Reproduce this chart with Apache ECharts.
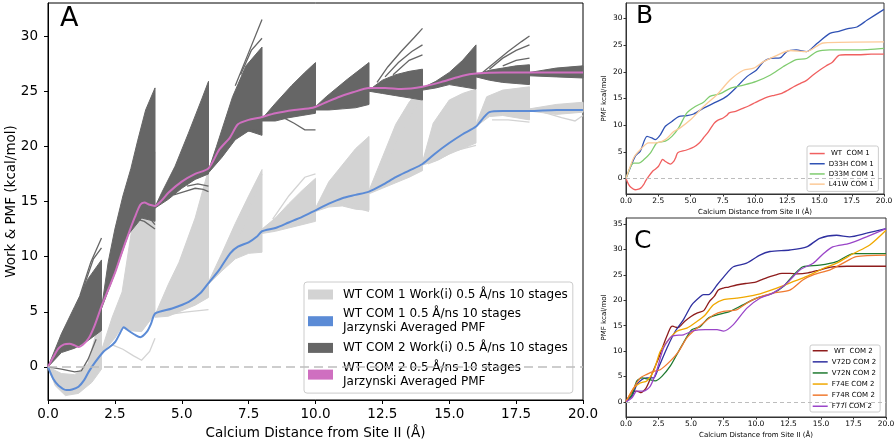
<!DOCTYPE html>
<html>
<head>
<meta charset="utf-8">
<style>html,body{margin:0;padding:0;background:#fff}#chart{width:896px;height:443px}</style>
</head>
<body>
<div id="chart"></div>
<script src="https://cdn.jsdelivr.net/npm/echarts@6/dist/echarts.min.js"></script>
<script>
var FONT = 'DejaVu Sans';

// tick labels
var xTicks = [0, 2.5, 5, 7.5, 10, 12.5, 15, 17.5, 20];
var yTicksA = [0, 5, 10, 15, 20, 25, 30];
var yTicksB = [0, 5, 10, 15, 20, 25, 30];
var yTicksC = [0, 5, 10, 15, 20, 25, 30, 35];

// panel A: Jarzynski averaged PMFs (x in Å, kcal/mol)
var pmfCom1 = [[0,0],[0.2,-1.1],[0.4,-1.7],[0.7,-2.1],[0.9,-2.05],[1.14,-1.8],[1.35,-1.2],[1.52,-0.45],[1.77,0.45],[2.08,1.4],[2.3,1.8],[2.52,2.3],[2.7,3.1],[2.83,3.6],[3.0,3.3],[3.26,2.9],[3.45,2.7],[3.7,3.2],[3.85,3.9],[4.01,4.85],[4.64,5.3],[5.26,5.9],[5.7,6.7],[6.0,7.6],[6.4,8.8],[6.81,10.3],[7.1,10.9],[7.5,11.3],[7.8,11.8],[8.0,12.3],[8.5,12.6],[9.0,13.1],[9.5,13.6],[10.0,14.2],[10.5,14.8],[11.0,15.3],[11.5,15.6],[12.0,15.9],[12.5,16.5],[13.0,17.2],[13.5,17.8],[14.0,18.4],[14.5,19.4],[15.0,20.3],[15.5,21.1],[16.0,21.8],[16.5,23.1],[17,23.2],[18,23.2],[19,23.3],[20,23.3]];
var pmfCom2 = [[0,0],[0.2,0.9],[0.4,1.7],[0.6,2.05],[0.8,2.1],[1.0,1.95],[1.15,1.8],[1.3,2.0],[1.52,2.6],[1.75,3.8],[2.0,5.5],[2.25,7.0],[2.5,8.5],[2.75,10.3],[3.0,12.0],[3.25,13.6],[3.45,14.7],[3.6,14.9],[3.8,14.7],[4.0,14.6],[4.25,15.1],[4.5,15.8],[5.0,16.8],[5.5,17.5],[6.0,18.0],[6.4,19.7],[6.8,20.8],[7.1,22.0],[7.5,22.4],[7.9,22.6],[8.5,23.0],[9.2,23.3],[9.9,23.5],[10.4,24.0],[10.9,24.5],[11.4,24.9],[12.0,25.3],[12.6,25.3],[13.2,25.2],[14.0,25.4],[14.8,25.9],[15.5,26.4],[16.0,26.6],[17,26.7],[18,26.7],[19,26.7],[20,26.7]];

// panel A: work trajectory fans per stage (upper edge, lower edge, stray trajectories)
var lightTop = [
  [[0,0],[0.5,-0.6],[1,-0.7],[1.5,0.3],[2,5]],
  [[2,1.5],[2.4,4.5],[2.77,6.8],[3.14,12.6],[3.64,14.4],[4,19.5]],
  [[4,4.7],[4.5,7.5],[4.9,9.5],[5.5,13.5],[6,17.9]],
  [[6,7.7],[6.5,10.3],[7,13],[7.5,15.5],[8,17.9]],
  [[8,12.5],[8.5,13.5],[9,14.8],[9.5,16],[10,17.1]],
  [[10,14.4],[10.5,16.8],[11,18.3],[11.5,19.8],[12,20.9]],
  [[12,16],[12.5,19],[13,22],[13.5,24],[14,25.5]],
  [[14,18.6],[14.4,22.1],[15,24.2],[15.5,24.8],[16,25.2]],
  [[16,22],[16.4,24.5],[17,25.1],[18,25.4]],
  [[18,23.4],[19,23.8],[20,24]]
];
var lightBot = [
  [[0,0],[0.27,-1.7],[0.65,-2.6],[1.14,-2.4],[1.64,-1.4],[2,-0.2]],
  [[2,1.2],[2.5,2.6],[2.75,3.6],[3,3.3],[3.5,3.2],[4,4.8]],
  [[4,4.5],[4.5,4.6],[5,5.1],[5.5,5.6],[6,6.3]],
  [[6,7.5],[6.5,8.7],[7,9.8],[7.5,10.3],[8,10.4]],
  [[8,12.1],[8.5,12.3],[9,12.6],[9.5,12.9],[10,13.2]],
  [[10,14.1],[10.5,14.5],[11,14.6],[11.5,14.3],[12,14.2]],
  [[12,15.7],[12.5,16.2],[13,16.7],[13.5,17.2],[14,17.8]],
  [[14,18.3],[14.5,18.7],[15,19.3],[15.5,19.8],[16,20.3]],
  [[16,21.8],[16.5,22.7],[17,22.8],[18,22.4]],
  [[18,23.2],[19,22.9],[20,23.1]]
];
var lightRays = [
  [],
  [[[2.1,1.4],[2.4,2.0],[2.8,1.6],[3.2,1.0],[3.5,0.6],[3.8,1.4],[4,2.6]]],
  [[[4.6,4.8],[5.2,5.0],[6,5.2]]],
  [[[6.6,9.5],[7.2,12],[7.7,15.5],[8,17.5]]],
  [[[8.4,13.4],[9,15.5],[9.6,17.2],[10,17.5]]],
  [[[10.8,14.8],[11.3,14.9],[11.6,14.4],[12,14.1]]],
  [[[12.5,17.2],[13,20.5],[13.6,23],[14,24.5]]],
  [[[14.2,18.4],[14.6,18.8],[15.2,19.6],[16,20.1]]],
  [[[16.6,22.4],[17.2,22.4],[18,22.2]]],
  [[[18.5,23.1],[19.2,22.6],[19.7,22.3],[20,22.8]]]
];
var darkTop = [
  [[0,0],[0.5,3],[1,5.5],[1.5,8],[2,9.7]],
  [[2,5.3],[2.25,9.5],[2.5,12.5],[2.8,15.5],[3.1,18],[3.35,20.5],[3.65,23.3],[4,25.3]],
  [[4,14.5],[4.25,15.8],[4.75,18.2],[5.25,21.2],[5.75,24.3],[6,25.9]],
  [[6,17.8],[6.3,20],[6.9,24.5],[7.4,27.3],[8,29]],
  [[8,22.5],[8.5,23.9],[9.1,25.5],[9.6,26.7],[10,27.6]],
  [[10,23.6],[10.4,24.5],[11.2,26.1],[12,27.6]],
  [[12,25.1],[12.5,26],[13,26.5],[13.5,26.8],[14,27]],
  [[14,25.3],[14.5,25.9],[15,26.7],[15.5,27.8],[16,29.2]],
  [[16,26.5],[16.5,26.9],[17,27.1],[17.5,27.3],[18,27.4]],
  [[18,26.7],[19,27.1],[20,27.3]]
];
var darkBot = [
  [[0,0],[0.5,1.3],[1,1.7],[1.5,2.4],[2,3.3]],
  [[2,5.3],[2.5,8.5],[3,12],[3.5,13.5],[4,13.2]],
  [[4,14.4],[4.5,15.2],[5,16.2],[5.5,17],[6,17.5]],
  [[6,17.6],[6.5,19],[7,20.6],[7.5,21.4],[8,21]],
  [[8,22.3],[8.5,22.3],[9,22.6],[9.5,22.8],[10,23]],
  [[10,23.3],[10.5,23.3],[11,23.4],[11.5,23.5],[12,23.8]],
  [[12,25],[12.5,24.8],[13,24.6],[13.5,24.4],[14,24.2]],
  [[14,25.1],[14.5,25.3],[15,25.6],[15.5,25.4],[16,25.2]],
  [[16,26.3],[16.5,26],[17,25.8],[17.5,25.7],[18,25.6]],
  [[18,26.4],[19,26.3],[20,26.2]]
];
var darkRays = [
  [[[0,0],[0.5,-0.2],[1.0,-0.45],[1.25,-0.35],[1.5,0.7],[1.8,2.5]], [[1.2,6.5],[1.6,9.5],[2,11.7]], [[1.3,7],[1.7,9.8],[2,10.8]]],
  [[[3.2,13.5],[3.6,13.2],[4,12.5]], [[3.5,14.3],[3.8,13.5],[4,12.9]]],
  [[[4.7,15.6],[5.1,15.9],[5.5,16.2],[5.8,16.1],[6,15.9]], [[5.2,16.4],[5.6,16.6],[6,16.4]]],
  [[[7,25.5],[7.5,28.5],[8,31.5]], [[7.2,26.5],[7.6,28.7],[8,29.8]], [[7.3,21.3],[7.7,21.5],[8,21.3]]],
  [[[8.8,22.6],[9.2,22.1],[9.6,21.5],[10,21.5]]],
  [],
  [[[12.3,25.8],[12.7,27.2],[13.2,28.6],[13.7,29.9],[14,30.7]], [[12.6,26.3],[13.1,27.6],[13.6,28.6],[14,29.2]], [[12.9,26.5],[13.5,27.8],[14,28.3]]],
  [],
  [[[16.2,26.6],[16.7,27.6],[17.2,28.6],[17.7,29.5],[18,30]], [[16.5,27],[17,28],[17.5,28.7],[18,29.2]], [[17,27.3],[17.5,27.8],[18,28]]],
  []
];

// panel B: COM 1 mutants
var d33hCom1 = [[0,0],[0.72,4.2],[1.1,5.1],[1.63,7.9],[2.0,7.6],[2.27,7.3],[2.66,8.2],[3.05,9.8],[3.56,10.7],[4.08,11.6],[4.72,11.8],[5.24,12.1],[6.01,13.2],[7.05,14.4],[7.8,15.4],[8.6,17.2],[9.37,19.1],[10.1,20.3],[10.66,21.9],[11.2,22.5],[11.95,22.6],[12.46,23.8],[13.2,24.1],[14.0,23.8],[14.8,25.3],[15.8,27.2],[16.5,27.6],[17.2,28.1],[17.9,28.4],[18.7,29.7],[20,31.7]];
var d33mCom1 = [[0,0],[0.6,2.9],[1.0,2.9],[1.37,3.5],[1.9,4.8],[2.4,6.7],[3.05,7.0],[3.56,7.9],[4.08,9.5],[4.72,12.3],[5.37,13.5],[6.01,14.3],[6.5,15.4],[7.3,15.9],[8.08,16.9],[9.1,17.5],[10.1,18.2],[11.2,19.4],[12.2,21.0],[13.2,22.3],[14.0,22.5],[14.8,23.8],[15.8,24.1],[17.9,24.1],[20,24.4]];
var l41wCom1 = [[0,0],[0.6,3.9],[1.1,5.4],[1.75,6.7],[2.4,6.7],[3.05,7.3],[3.7,8.8],[4.2,9.5],[5.0,11.0],[6.01,13.5],[7.05,15.7],[8.08,18.5],[9.1,20.3],[9.9,20.7],[10.66,21.9],[11.7,23.1],[12.7,24.0],[14.0,23.8],[15.3,25.4],[20,25.6]];

// panel C: COM 2 mutants
var v72dCom2 = [[0,0],[0.46,1.1],[0.84,3.4],[1.23,4.4],[1.6,4.7],[2.12,4.7],[2.5,6.7],[3.15,10.6],[3.79,13.9],[4.42,16.2],[5.06,19.1],[5.7,20.7],[5.96,21.1],[6.34,21.1],[7.0,23.0],[7.75,25.3],[8.26,26.6],[9.28,27.3],[10.3,28.9],[11.07,29.6],[12.6,29.9],[13.9,30.5],[14.9,32.2],[16.2,32.8],[17.2,32.5],[18.5,33.2],[20,34.1]];
var v72nCom2 = [[0,0],[0.46,1.4],[0.84,4.1],[1.23,4.7],[1.74,4.4],[2.25,4.1],[2.76,5.0],[3.4,7.0],[4.04,9.9],[4.55,12.2],[5.06,14.2],[5.7,14.8],[6.34,16.5],[7.0,17.1],[8.0,17.8],[9.0,19.1],[10.05,20.4],[11.3,21.4],[12.1,22.7],[12.9,25.0],[13.6,26.6],[14.9,26.9],[16.2,27.6],[17.5,29.2],[20,29.2]];
var f74eCom2 = [[0,0],[0.59,2.7],[1.1,3.7],[1.6,4.1],[2.12,6.0],[2.63,9.9],[3.27,12.2],[3.91,13.9],[4.68,14.5],[5.45,15.8],[6.09,17.1],[6.73,19.1],[7.5,20.1],[8.5,20.4],[10.05,21.1],[11.6,22.4],[12.9,23.7],[13.9,24.7],[15.2,26.3],[16.2,27.3],[17.5,29.2],[18.75,30.9],[20,33.8]];
var f74rCom2 = [[0,0],[0.59,2.7],[1.1,4.7],[1.6,5.4],[2.12,6.0],[2.63,6.3],[3.4,8.0],[4.04,9.9],[4.68,12.6],[5.45,14.5],[6.09,15.8],[6.73,17.1],[7.5,17.8],[8.5,18.1],[9.28,19.4],[10.05,20.4],[11.3,21.4],[12.6,22.0],[13.6,24.0],[14.4,25.0],[15.7,26.0],[16.7,27.3],[17.7,28.6],[20,28.9]];
var f77iCom2 = [[0,0],[0.46,0.8],[0.84,2.1],[1.36,2.1],[1.87,3.1],[2.38,6.3],[2.89,10.6],[3.53,12.9],[4.42,13.2],[5.2,14.0],[6.09,14.2],[7.0,14.2],[7.5,13.9],[8.26,15.2],[9.28,18.4],[10.3,20.4],[11.3,21.4],[12.35,23.3],[13.4,26.0],[14.4,27.3],[15.2,29.2],[15.9,30.5],[17.2,31.2],[18.5,32.5],[20,34.1]];

var nLight = 'WT COM 1 Work(i) 0.5 Å/ns 10 stages';
var nBlue = 'WT COM 1 0.5 Å/ns 10 stages\nJarzynski Averaged PMF';
var nDark = 'WT COM 2 Work(i) 0.5 Å/ns 10 stages';
var nPink = 'WT COM 2 0.5 Å/ns 10 stages\nJarzynski Averaged PMF';

var cLight = '#d3d3d3', cDark = '#666666', cBlue = '#5b8bd6', cPink = '#cf6fc0';

function fanSeries(name, color, tops, bots, rays) {
  return {
    name: name, type: 'custom', xAxisIndex: 0, yAxisIndex: 0,
    itemStyle: { color: color },
    encode: { x: 0, y: 1 },
    data: tops.map(function (t) { return t[0]; }),
    renderItem: function (params, api) {
      var i = params.dataIndex;
      var outline = tops[i].concat(bots[i].slice().reverse());
      var kids = [{
        type: 'polygon',
        shape: { points: outline.map(function (p) { return api.coord(p); }) },
        style: { fill: color, stroke: color, lineWidth: 1 }
      }];
      rays[i].forEach(function (r) {
        kids.push({
          type: 'polyline',
          shape: { points: r.map(function (p) { return api.coord(p); }) },
          style: { stroke: color, lineWidth: 1.3, fill: null }
        });
      });
      return { type: 'group', children: kids };
    }
  };
}

function lineSeries(name, data, color, axis, width) {
  return {
    name: name, type: 'line', xAxisIndex: axis, yAxisIndex: axis,
    data: data, showSymbol: false, symbol: 'none', smooth: 0.25,
    itemStyle: { color: color },
    lineStyle: { color: color, width: width }
  };
}

function zeroLine(w, dash) {
  return {
    silent: true, symbol: 'none', label: { show: false },
    lineStyle: { color: '#bdbdbd', width: w, type: dash },
    data: [{ yAxis: 0 }]
  };
}

function xAxis(grid, fs, nfs, gap, margin, tick, col) {
  return {
    gridIndex: grid, type: 'value', min: 0, max: 20,
    name: 'Calcium Distance from Site II (Å)', nameLocation: 'middle', nameGap: gap, nameMoveOverlap: false,
    nameTextStyle: { fontSize: nfs, color: '#000', fontFamily: FONT },
    axisLine: { onZero: false, lineStyle: { color: col, width: 1 } },
    axisTick: { length: tick, customValues: xTicks, lineStyle: { color: col } },
    axisLabel: { customValues: xTicks, fontSize: fs, color: '#000', margin: margin, fontFamily: FONT,
      formatter: function (v) { return v.toFixed(1); } },
    splitLine: { show: false }
  };
}

function yAxis(grid, min, max, ticks, name, fs, nfs, gap, margin, tick, col) {
  return {
    gridIndex: grid, type: 'value', min: min, max: max,
    name: name, nameLocation: 'middle', nameGap: gap, nameMoveOverlap: false,
    nameTextStyle: { fontSize: nfs, color: '#000', fontFamily: FONT },
    axisLine: { onZero: false, lineStyle: { color: col, width: 1 } },
    axisTick: { length: tick, customValues: ticks, lineStyle: { color: col } },
    axisLabel: { customValues: ticks, fontSize: fs, color: '#000', margin: margin, fontFamily: FONT },
    splitLine: { show: false }
  };
}

function smallLegend(left, top, pad, gap, names, colors) {
  return {
    left: left, top: top, orient: 'vertical', selectedMode: false,
    padding: pad, itemGap: gap, itemWidth: 15, itemHeight: 1.5,
    backgroundColor: 'rgba(255,255,255,0.85)', borderColor: '#ccc', borderWidth: 1, borderRadius: 2,
    textStyle: { fontSize: 7, lineHeight: 8.5, fontFamily: FONT, color: '#000', padding: [0, 0, 0, -1] },
    data: names.map(function (n, i) { return { name: n, icon: 'rect', itemStyle: { color: colors[i] } }; })
  };
}

var bNames = [' WT  COM 1', 'D33H COM 1', 'D33M COM 1', 'L41W COM 1'];
var bColors = ['#f06060', '#3052b4', '#80cc70', '#fcca98'];
var cNames = [' WT  COM 2', 'V72D COM 2', 'V72N COM 2', 'F74E COM 2', 'F74R COM 2', 'F77I COM 2'];
var cColors = ['#8e1c1c', '#2f30a0', '#1f7a30', '#f0a800', '#f07a30', '#9a45c8'];

var chart = echarts.init(document.getElementById('chart'));

var seriesB = [pmfCom1, d33hCom1, d33mCom1, l41wCom1].map(function (d, i) {
  return lineSeries(bNames[i], d, bColors[i], 1, 1.3);
});
seriesB[0].markLine = zeroLine(1, [4, 3]);
var seriesC = [pmfCom2, v72dCom2, v72nCom2, f74eCom2, f74rCom2, f77iCom2].map(function (d, i) {
  return lineSeries(cNames[i], d, cColors[i], 2, 1.3);
});
seriesC[0].markLine = zeroLine(1, [4, 3]);

// zero reference drawn below the fans in panel A
var zeroA = {
  type: 'line', xAxisIndex: 0, yAxisIndex: 0, data: [], silent: true,
  markLine: zeroLine(1.5, [9, 5])
};
var lightFan = fanSeries(nLight, cLight, lightTop, lightBot, lightRays);
var darkFan = fanSeries(nDark, cDark, darkTop, darkBot, darkRays);
var blue = lineSeries(nBlue, pmfCom1, cBlue, 0, 2);
var pink = lineSeries(nPink, pmfCom2, cPink, 0, 2);

var option = {
  animation: false,
  backgroundColor: '#fff',
  title: [
    { text: 'A', left: 60, top: 5, padding: 0, textStyle: { fontSize: 27, fontWeight: 'normal', fontFamily: FONT, color: '#000' } },
    { text: 'B', left: 636, top: 4, padding: 0, textStyle: { fontSize: 25, fontWeight: 'normal', fontFamily: FONT, color: '#000' } },
    { text: 'C', left: 634, top: 229, padding: 0, textStyle: { fontSize: 25, fontWeight: 'normal', fontFamily: FONT, color: '#000' } }
  ],
  grid: [
    { left: 48, top: 3, width: 535, height: 397, show: true, borderColor: '#000', borderWidth: 1, outerBoundsMode: 'none', containLabel: false },
    { left: 626, top: 3, width: 258, height: 191, show: true, borderColor: '#333', borderWidth: 1, outerBoundsMode: 'none', containLabel: false },
    { left: 626, top: 218, width: 260, height: 199, show: true, borderColor: '#333', borderWidth: 1, outerBoundsMode: 'none', containLabel: false }
  ],
  xAxis: [
    xAxis(0, 13.5, 13.5, 26, 7, 4, '#000'),
    xAxis(1, 7.5, 7, 15, 3.5, 2.5, '#333'),
    xAxis(2, 7.5, 7, 15, 3.5, 2.5, '#333')
  ],
  yAxis: [
    yAxis(0, -3, 33, yTicksA, 'Work & PMF (kcal/mol)', 13.5, 13.5, 30, 10, 4, '#000'),
    yAxis(1, -2.9, 32.9, yTicksB, 'PMF kcal/mol', 7.5, 7, 18, 3.5, 2.5, '#333'),
    yAxis(2, -3, 36.2, yTicksC, 'PMF kcal/mol', 7.5, 7, 18, 3.5, 2.5, '#333')
  ],
  legend: [
    {
      left: 304, top: 282, orient: 'vertical', selectedMode: false,
      padding: [5.5, 5, 4.5, 4], itemGap: 5.7, itemWidth: 25, itemHeight: 10,
      backgroundColor: 'rgba(255,255,255,0.85)', borderColor: '#ccc', borderWidth: 1, borderRadius: 3,
      textStyle: { fontSize: 12, lineHeight: 14, fontFamily: FONT, color: '#000', padding: [0, 0, 0, 5] },
      data: [
        { name: nLight, icon: 'rect', itemStyle: { color: cLight } },
        { name: nBlue, icon: 'rect', itemStyle: { color: cBlue } },
        { name: nDark, icon: 'rect', itemStyle: { color: cDark } },
        { name: nPink, icon: 'rect', itemStyle: { color: cPink } }
      ]
    },
    smallLegend(807, 146, [3.3, 4, 3, 2.7], 1.7, bNames, bColors),
    smallLegend(810, 345, [1.5, 4, 1.5, 2.7], 2.6, cNames, cColors)
  ],
  series: [zeroA, lightFan, darkFan, blue, pink].concat(seriesB, seriesC)
};

chart.setOption(option);
</script>
</body>
</html>
